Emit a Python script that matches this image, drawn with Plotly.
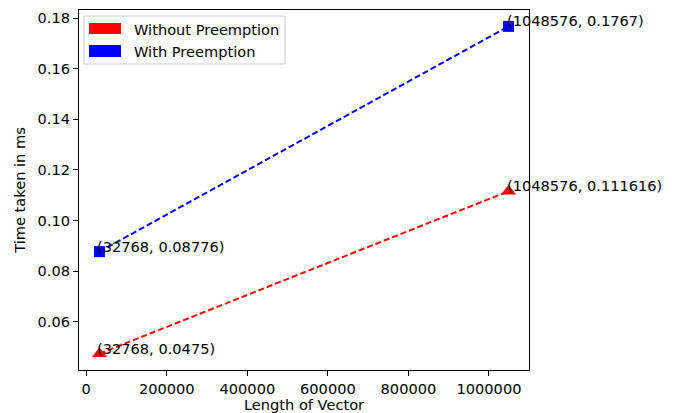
import plotly.graph_objects as go

lengths = [32768, 1048576]
without_preemption = [0.0475, 0.111616]
with_preemption = [0.08776, 0.1767]
without_labels = ["(32768, 0.0475)", "(1048576, 0.111616)"]
with_labels = ["(32768, 0.08776)", "(1048576, 0.1767)"]
series_names = ["Without Preemption", "With Preemption"]
series_colors = ["red", "blue"]

FONT = "DejaVu Sans"
FS = 14.6

fig = go.Figure()
fig.add_trace(go.Scatter(x=lengths, y=without_preemption, mode="lines+markers",
                         line=dict(color="red", width=2, dash="6px,3px"),
                         marker=dict(symbol="triangle-up", size=13, color="red"),
                         showlegend=False))
fig.add_trace(go.Scatter(x=lengths, y=with_preemption, mode="lines+markers",
                         line=dict(color="blue", width=2, dash="6px,3px"),
                         marker=dict(symbol="square", size=11, color="blue"),
                         showlegend=False))

annotations = []
for xs, ys, labels in [(lengths, without_preemption, without_labels),
                       (lengths, with_preemption, with_labels)]:
    for x, y, t in zip(xs, ys, labels):
        annotations.append(dict(x=x, y=y, xref="x", yref="y", text=t, showarrow=False,
                                xanchor="left", yanchor="bottom", yshift=-5, xshift=-4,
                                font=dict(family=FONT, size=FS, color="black")))

# legend drawn manually (matplotlib patch style)
shapes = [dict(type="rect", xref="paper", yref="paper", x0=0.0111, x1=0.4578, y0=0.85, y1=0.9833,
               line=dict(color="#cccccc", width=1), fillcolor="rgba(255,255,255,0.8)", layer="above")]
patch_y = [(0.9333, 0.9639), (0.8694, 0.9028)]
text_y = [0.9472, 0.8861]
for name, col, (py0, py1), ty in zip(series_names, series_colors, patch_y, text_y):
    shapes.append(dict(type="rect", xref="paper", yref="paper", x0=0.0222, x1=0.0933, y0=py0, y1=py1,
                       line=dict(width=0), fillcolor=col, layer="above"))
    annotations.append(dict(x=0.1178, y=ty, xref="paper", yref="paper", text=name, showarrow=False,
                            xanchor="left", yanchor="middle",
                            font=dict(family=FONT, size=FS, color="black")))

fig.update_layout(
    width=675, height=405,
    margin=dict(l=71, r=154, t=2, b=43),
    paper_bgcolor="white", plot_bgcolor="white",
    font=dict(family=FONT, size=FS, color="black"),
    shapes=shapes, annotations=annotations,
)
fig.update_xaxes(range=[-18022, 1099366], showgrid=False, zeroline=False,
                 showline=True, linecolor="black", linewidth=1, mirror=True,
                 ticks="outside", ticklen=5, tickcolor="black",
                 tickvals=[0, 200000, 400000, 600000, 800000, 1000000], tickformat="d",
                 title=dict(text="Length of Vector", standoff=4, font=dict(family=FONT, size=FS)))
fig.update_yaxes(range=[0.04104, 0.18316], showgrid=False, zeroline=False,
                 showline=True, linecolor="black", linewidth=1, mirror=True,
                 ticks="outside", ticklen=5, tickcolor="black",
                 tickvals=[0.06, 0.08, 0.10, 0.12, 0.14, 0.16, 0.18], tickformat=".2f",
                 title=dict(text="Time taken in ms", standoff=8, font=dict(family=FONT, size=FS)))

fig.write_html("out.html")
